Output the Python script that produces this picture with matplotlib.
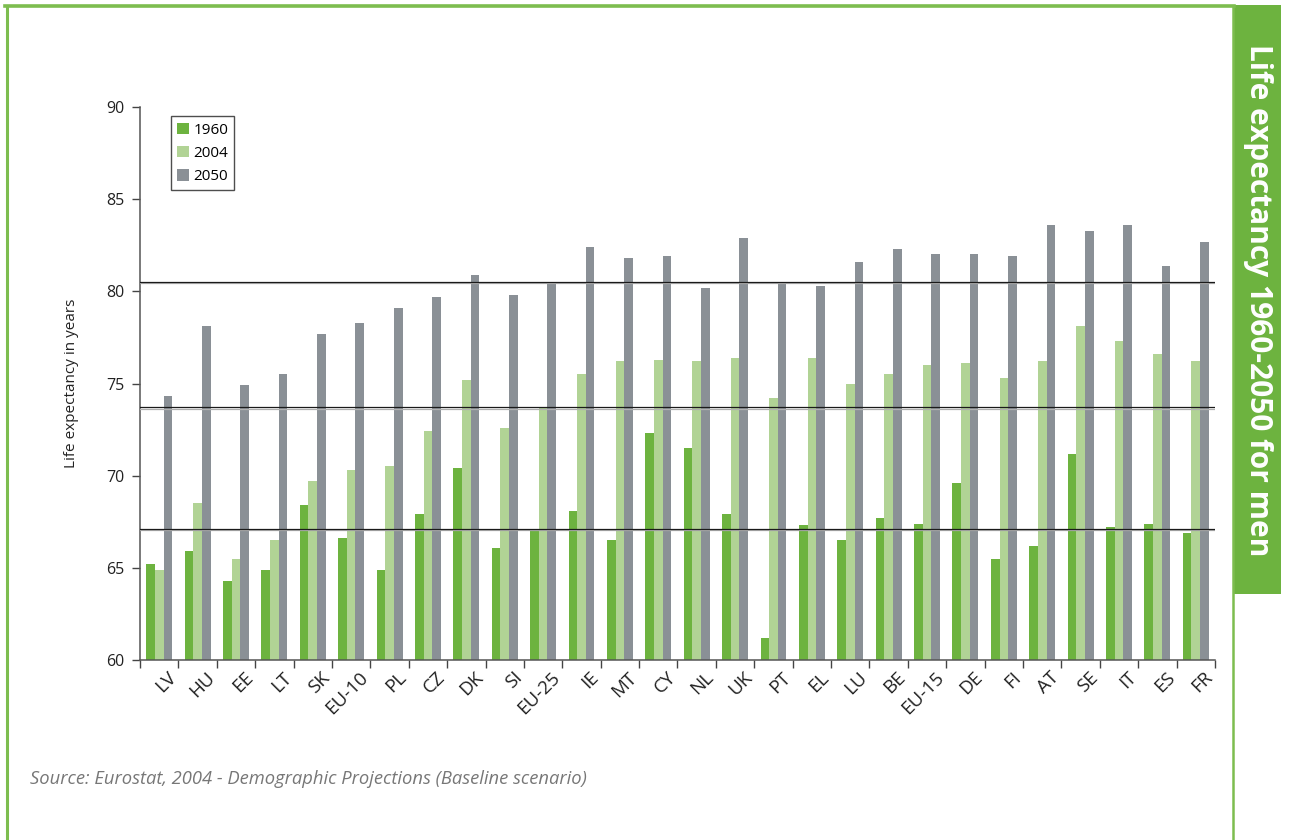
import matplotlib
matplotlib.use("Agg")
import matplotlib.pyplot as plt
import matplotlib.transforms as mtransforms
import numpy as np
from matplotlib.patches import Rectangle
from matplotlib.lines import Line2D

categories = ["LV", "HU", "EE", "LT", "SK", "EU-10", "PL", "CZ", "DK", "SI", "EU-25",
              "IE", "MT", "CY", "NL", "UK", "PT", "EL", "LU", "BE", "EU-15", "DE",
              "FI", "AT", "SE", "IT", "ES", "FR"]
y1960 = [65.2, 65.9, 64.3, 64.9, 68.4, 66.6, 64.9, 67.9, 70.4, 66.1, 67.1,
         68.1, 66.5, 72.3, 71.5, 67.9, 61.2, 67.3, 66.5, 67.7, 67.4, 69.6,
         65.5, 66.2, 71.2, 67.2, 67.4, 66.9]
y2004 = [64.9, 68.5, 65.5, 66.5, 69.7, 70.3, 70.5, 72.4, 75.2, 72.6, 73.7,
         75.5, 76.2, 76.3, 76.2, 76.4, 74.2, 76.4, 75.0, 75.5, 76.0, 76.1,
         75.3, 76.2, 78.1, 77.3, 76.6, 76.2]
y2050 = [74.3, 78.1, 74.9, 75.5, 77.7, 78.3, 79.1, 79.7, 80.9, 79.8, 80.5,
         82.4, 81.8, 81.9, 80.2, 82.9, 80.4, 80.3, 81.6, 82.3, 82.0, 82.0,
         81.9, 83.6, 83.3, 83.6, 81.4, 82.7]
series_labels = ["1960", "2004", "2050"]
eu25_refs = [67.1, 73.7, 80.5]
title_text = "Life expectancy 1960-2050 for men"
ylabel_text = "Life expectancy in years"
source_text = "Source: Eurostat, 2004 - Demographic Projections (Baseline scenario)"

plt.rcParams['font.family'] = ['Open Sans', 'DejaVu Sans']

W, H = 1289, 840
fig = plt.figure(figsize=(W / 100, H / 100), dpi=100)

def fx(px):
    return px / W

def fy(py):
    return 1 - py / H

ax = fig.add_axes([fx(140), fy(660), fx(1215) - fx(140), fy(107) - fy(660)])

c1960 = "#6db33f"
c2004 = "#b1d395"
c2050 = "#8a9096"

x = np.arange(len(categories))
bw = 0.225
ax.bar(x - bw, y1960, width=bw, color=c1960, label=series_labels[0], zorder=2)
ax.bar(x, y2004, width=bw, color=c2004, label=series_labels[1], zorder=2)
ax.bar(x + bw, y2050, width=bw, color=c2050, label=series_labels[2], zorder=2)

for v in eu25_refs:
    ax.axhline(v - 0.07, color="#b0b0b0", lw=0.9, zorder=3)
    ax.axhline(v, color="#1a1a1a", lw=0.9, zorder=4)

ax.set_xlim(-0.5, len(categories) - 0.5)
ax.set_ylim(60, 90)
ax.set_yticks([60, 65, 70, 75, 80, 85, 90])
ax.tick_params(axis="y", labelsize=11.5, direction="out", length=6, width=1, color="#444444", pad=5, labelcolor="#222222")

ax.set_xticks(np.arange(len(categories) + 1) - 0.5, minor=False)
ax.set_xticklabels([""] * (len(categories) + 1))
ax.tick_params(axis="x", which="major", direction="out", length=6, width=1, color="#444444")
ax.set_xticks(x, minor=True)
ax.set_xticklabels(categories, minor=True, rotation=45, ha="right", rotation_mode="anchor",
                   fontsize=13.5, color="#222222")
ax.tick_params(axis="x", which="minor", length=0, pad=6)
offset = mtransforms.ScaledTranslation(8 / 100, 0, fig.dpi_scale_trans)
for lbl in ax.get_xticklabels(minor=True):
    lbl.set_transform(lbl.get_transform() + offset)

for s in ["top", "right"]:
    ax.spines[s].set_visible(False)
for s in ["left", "bottom"]:
    ax.spines[s].set_color("#555555")
    ax.spines[s].set_linewidth(1.1)

ax.set_ylabel(ylabel_text, fontsize=11, color="#222222", labelpad=20)

leg = ax.legend(loc="upper left", bbox_to_anchor=(0.029, 0.983), frameon=True, fancybox=False,
                edgecolor="#222222", fontsize=11, handlelength=0.75, handleheight=0.75,
                handletextpad=0.3, borderpad=0.4, labelspacing=0.55, borderaxespad=0)
leg.get_frame().set_linewidth(1.0)

# frame
fc = "#7dbd4f"
fig.add_artist(Line2D([fx(5), fx(1234)], [fy(6), fy(6)], color=fc, lw=2.6, transform=fig.transFigure))
fig.add_artist(Line2D([fx(6.5), fx(6.5)], [fy(6), fy(845)], color=fc, lw=2.2, transform=fig.transFigure))
fig.add_artist(Line2D([fx(1233), fx(1233)], [fy(6), fy(845)], color=fc, lw=1.8, transform=fig.transFigure))
fig.add_artist(Rectangle((fx(1234), fy(594)), fx(1281) - fx(1234), fy(5) - fy(594),
                         transform=fig.transFigure, color="#6db33f", lw=0))
fig.text(fx(1258), fy(300), title_text, rotation=-90, ha="center", va="center",
         color="white", fontsize=21.5, fontweight="bold")

fig.text(fx(30), fy(779), source_text, fontsize=13.2, style="italic", color="#777777",
         ha="left", va="center")

fig.savefig("out.png", dpi=100)
